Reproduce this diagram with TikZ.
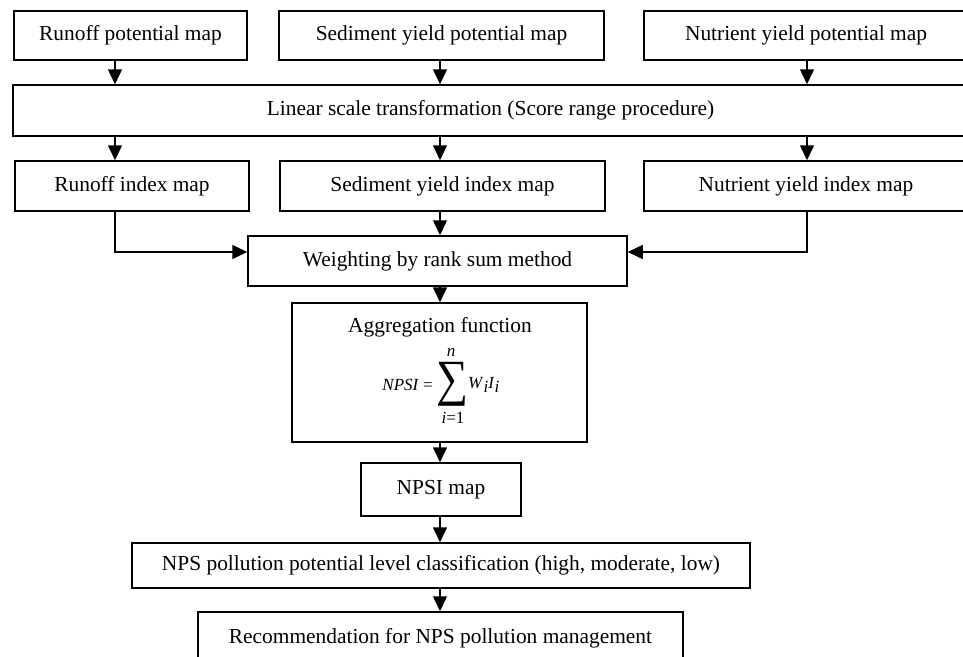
\documentclass[tikz,border=0pt]{standalone}
\usepackage{fontspec}
\setmainfont{Liberation Serif}
\usepackage{graphicx}
\usetikzlibrary{arrows.meta}
\begin{document}
\begin{tikzpicture}[x=1pt,y=-1pt,
  box/.style={draw,line width=1.5pt,inner sep=0pt,font=\fontsize{21.4}{25}\selectfont},
  lbl/.style={inner sep=0pt,font=\fontsize{21.4}{25}\selectfont},
  frm/.style={inner sep=0pt,font=\fontsize{17}{20}\selectfont},
  arr/.style={line width=1.5pt,-{Triangle[length=15pt,width=14pt]}}]
\useasboundingbox (0,0) rectangle (963,656);
\clip (0,0) rectangle (963,656);
% boxes
\node[box,minimum width=233pt,minimum height=49pt] (rp) at (130.5,35.5) {Runoff potential map};
\node[box,minimum width=325pt,minimum height=49pt] (sp) at (441.5,35.5) {Sediment yield potential map};
\node[box,minimum width=324pt,minimum height=49pt] (np) at (806,35.5) {Nutrient yield potential map};
\node[box,minimum width=955pt,minimum height=51pt] (lin) at (490.5,110.5) {Linear scale transformation (Score range procedure)};
\node[box,minimum width=234pt,minimum height=50pt] (ri) at (132,186) {Runoff index map};
\node[box,minimum width=325pt,minimum height=50pt] (si) at (442.5,186) {Sediment yield index map};
\node[box,minimum width=324pt,minimum height=50pt] (ni) at (806,186) {Nutrient yield index map};
\node[box,minimum width=379pt,minimum height=50pt] (w) at (437.5,261) {Weighting by rank sum method};
\node[box,minimum width=295pt,minimum height=139pt] (agg) at (439.5,372.5) {};
\node[box,minimum width=160pt,minimum height=53pt] (npsi) at (441,489.5) {NPSI map};
\node[box,minimum width=618pt,minimum height=45pt] (cls) at (441,565.5) {NPS pollution potential level classification (high, moderate, low)};
\node[box,minimum width=485pt,minimum height=52pt] (rec) at (440.5,638) {Recommendation for NPS pollution management};
% aggregation contents
\node[lbl] (aggt) at (440,327) {Aggregation function};
\node[frm,anchor=east] (lhs) at (433,385) {\textit{NPSI} =};
\node[inner sep=0pt] (sum) at (452,384) {\resizebox*{32pt}{44pt}{\fontsize{40}{40}\selectfont ∑}};
\node[frm] (sup) at (451,352) {\textit{n}};
\node[frm] (sub) at (453,418) {\textit{i}=1};
\node[frm,anchor=west] (wi) at (468,385) {\textit{W}\raisebox{-4pt}{\textit{i}}\textit{I}\raisebox{-4pt}{\textit{i}}};
% connectors
\coordinate (xa) at (115,0);
\coordinate (xb) at (440,0);
\coordinate (xc) at (807,0);
\coordinate (yl) at (0,252);
\draw[arr] (rp.south -| xa) -- (lin.north -| xa);
\draw[arr] (sp.south -| xb) -- (lin.north -| xb);
\draw[arr] (np.south -| xc) -- (lin.north -| xc);
\draw[arr] (lin.south -| xa) -- (ri.north -| xa);
\draw[arr] (lin.south -| xb) -- (si.north -| xb);
\draw[arr] (lin.south -| xc) -- (ni.north -| xc);
\draw[arr] (ri.south -| xa) |- (w.west |- yl);
\draw[arr] (ni.south -| xc) |- (w.east |- yl);
\draw[arr] (si.south -| xb) -- (w.north -| xb);
\draw[arr] (w.south -| xb) -- (agg.north -| xb);
\draw[arr] (agg.south -| xb) -- (npsi.north -| xb);
\draw[arr] (npsi.south -| xb) -- (cls.north -| xb);
\draw[arr] (cls.south -| xb) -- (rec.north -| xb);
\end{tikzpicture}
\end{document}
